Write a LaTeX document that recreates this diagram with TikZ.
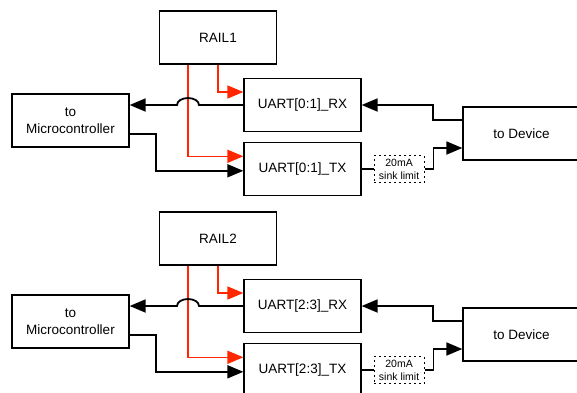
\documentclass[tikz,border=0pt]{standalone}
\usepackage{fontspec}
\setmainfont{Liberation Sans}
\usetikzlibrary{arrows.meta,positioning}
\definecolor{railred}{RGB}{255,38,0}

\begin{document}
\begin{tikzpicture}[
  x=1pt, y=1pt,
  box/.style={
    draw,
    line width=1.3pt,
    align=center,
    minimum width=117pt,
    minimum height=53pt,
    font=\fontsize{13.5}{17}\selectfont
  },
  limit/.style={
    draw,
    dash pattern=on 2pt off 3pt,
    line width=0.9pt,
    align=center,
    minimum width=50pt,
    minimum height=27pt,
    inner sep=1pt,
    font=\fontsize{10.5}{12.5}\selectfont
  },
  wire/.style={line width=1.8pt},
  line/.style={wire,-{Triangle[length=16pt,width=13pt]}},
  rail/.style={line,color=railred,line width=1.6pt}
]
\useasboundingbox (0,0) rectangle (577,392);
\clip (0,0) rectangle (577,392);

\node[box] (rail1) at (218,354.5) {RAIL1};
\node[box] (micro1) at (70.5,271.5) {to\\Microcontroller};
\node[box] (rx1) at (302.5,287) {UART[0:1]\_RX};
\node[box,below=10pt of rx1] (tx1) {UART[0:1]\_TX};
\node[limit,right=12pt of tx1] (lim1) {20mA\\sink limit};
\node[box] (dev1) at (521.5,258.5) {to Device};
\coordinate (hop1) at ([xshift=-19pt]rail1.south |- rx1.west);

\draw[rail] (rail1.south) |- ([yshift=13pt]rx1.west);
\draw[rail] ([xshift=-30pt]rail1.south) |- ([yshift=13pt]tx1.west);
\draw[line] (rx1.west) -- (hop1) arc[start angle=0,end angle=180,x radius=11pt,y radius=7pt] -- (rx1.west -| micro1.east);
\draw[line] ([yshift=-13.5pt]micro1.east) -- ++(26pt,0) |- ([yshift=-1.5pt]tx1.west);
\draw[line] ([yshift=13.5pt]dev1.west) -- ++(-29pt,0) |- (rx1.east);
\draw[wire] (tx1.east) -- (lim1.west);
\draw[line] (lim1.east) -- ++(9pt,0) |- ([yshift=-14.5pt]dev1.west);

\node[box] (rail2) at (218,153.5) {RAIL2};
\node[box] (micro2) at (70.5,70.5) {to\\Microcontroller};
\node[box] (rx2) at (302.5,86) {UART[2:3]\_RX};
\node[box,below=10pt of rx2] (tx2) {UART[2:3]\_TX};
\node[limit,right=12pt of tx2] (lim2) {20mA\\sink limit};
\node[box] (dev2) at (521.5,57.5) {to Device};
\coordinate (hop2) at ([xshift=-19pt]rail2.south |- rx2.west);

\draw[rail] (rail2.south) |- ([yshift=13pt]rx2.west);
\draw[rail] ([xshift=-30pt]rail2.south) |- ([yshift=13pt]tx2.west);
\draw[line] (rx2.west) -- (hop2) arc[start angle=0,end angle=180,x radius=11pt,y radius=7pt] -- (rx2.west -| micro2.east);
\draw[line] ([yshift=-13.5pt]micro2.east) -- ++(26pt,0) |- ([yshift=-1.5pt]tx2.west);
\draw[line] ([yshift=13.5pt]dev2.west) -- ++(-29pt,0) |- (rx2.east);
\draw[wire] (tx2.east) -- (lim2.west);
\draw[line] (lim2.east) -- ++(9pt,0) |- ([yshift=-14.5pt]dev2.west);
\end{tikzpicture}
\end{document}
